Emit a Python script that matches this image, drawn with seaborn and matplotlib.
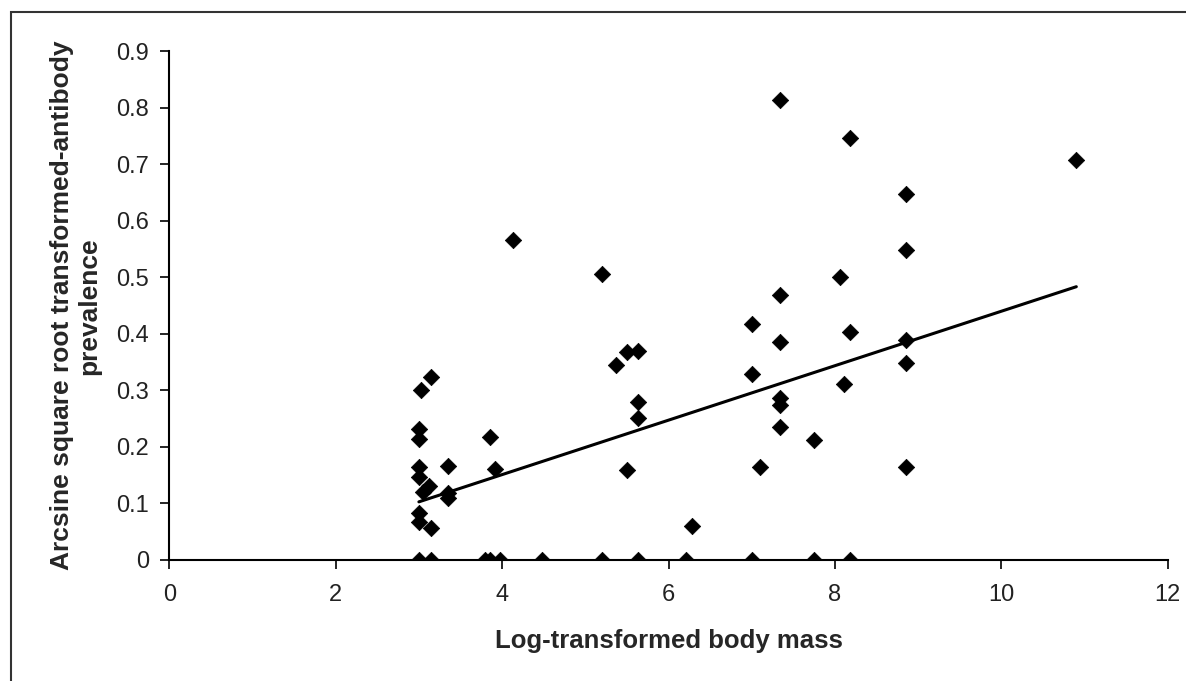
import numpy as np
import pandas as pd
import matplotlib
matplotlib.use('Agg')
import matplotlib.pyplot as plt
import seaborn as sns
from matplotlib.patches import Rectangle

# values
body_mass = [3.0, 3.15, 3.79, 3.85, 3.97, 4.48, 5.2, 5.63, 6.21, 7.0, 7.75, 8.18,
             3.0, 3.0, 3.03, 3.15, 3.0, 3.0, 3.12, 3.05, 3.0, 3.0, 3.15,
             3.35, 3.35, 3.35, 3.85, 3.91, 4.13,
             5.2, 5.37, 5.5, 5.63, 5.63, 5.63, 5.5, 6.28,
             7.0, 7.0, 7.1, 7.34, 7.34, 7.34, 7.34, 7.34, 7.34, 7.75,
             8.06, 8.18, 8.18, 8.11, 8.85, 8.85, 8.85, 8.85, 8.85, 10.9]
prevalence = [0, 0, 0, 0, 0, 0, 0, 0, 0, 0, 0, 0,
              0.231, 0.215, 0.301, 0.324, 0.165, 0.146, 0.131, 0.121, 0.083, 0.068, 0.057,
              0.166, 0.118, 0.109, 0.218, 0.161, 0.566,
              0.506, 0.345, 0.368, 0.370, 0.279, 0.251, 0.159, 0.061,
              0.417, 0.330, 0.165, 0.814, 0.469, 0.385, 0.286, 0.274, 0.236, 0.212,
              0.501, 0.746, 0.403, 0.311, 0.647, 0.548, 0.389, 0.349, 0.165, 0.708]

# linear trendline as drawn in the original
trend_slope = 0.0482
trend_intercept = -0.0417

df = pd.DataFrame({'mass': body_mass, 'prev': prevalence})
trend_x = np.array([min(body_mass), max(body_mass)])
trend = pd.DataFrame({'mass': trend_x, 'prev': trend_intercept + trend_slope * trend_x})

sns.set_style('white')
plt.rcParams['font.family'] = ['Liberation Sans', 'DejaVu Sans']

fig = plt.figure(figsize=(11.86, 6.81), dpi=100)
ax = fig.add_axes([0.1427, 0.1777, 0.842, 0.7467])

sns.scatterplot(data=df, x='mass', y='prev', marker='D', color='black',
                s=70, edgecolor='black', linewidth=0.5, ax=ax, zorder=3)
sns.lineplot(data=trend, x='mass', y='prev', color='black', linewidth=2.2, ax=ax)

ax.set_xlim(0, 12)
ax.set_ylim(0, 0.9)
ax.set_xticks(range(0, 13, 2))
ax.set_yticks(np.arange(0, 0.91, 0.1))
ax.set_yticklabels(['0'] + ['%.1f' % v for v in np.arange(0.1, 0.91, 0.1)])

for side in ['top', 'right']:
    ax.spines[side].set_visible(False)
for side in ['left', 'bottom']:
    ax.spines[side].set_color('black')
    ax.spines[side].set_linewidth(1.5)

ax.tick_params(axis='both', direction='out', length=6.5, width=1.2, color='black',
               labelsize=17, labelcolor='#222222', left=True, bottom=True)
ax.tick_params(axis='y', pad=8)
ax.tick_params(axis='x', pad=11)

ax.set_xlabel('Log-transformed body mass', labelpad=16,
              family=['Liberation Sans'], weight='bold', size=18.5)
ax.set_ylabel('Arcsine square root transformed-antibody\nprevalence',
              labelpad=11, linespacing=1.15,
              family=['Liberation Sans'], weight='bold', size=19)

# outer chart border (cropped at right and bottom in the original)
fig.patches.append(Rectangle((11 / 1186, -0.1), 1.2, 1 - 12 / 681 + 0.1,
                             transform=fig.transFigure, fill=False,
                             edgecolor='#333333', linewidth=1.5))

plt.savefig('out.png', dpi=100)
plt.close()
